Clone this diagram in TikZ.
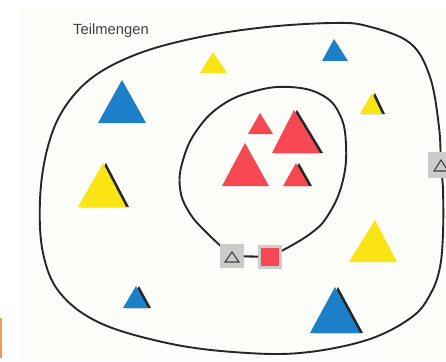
\documentclass[tikz,border=0pt]{standalone}
\usepackage{fontspec}
\setsansfont{Liberation Sans}
\usetikzlibrary{positioning,backgrounds}

\definecolor{setblue}{RGB}{28,128,200}
\definecolor{setyellow}{RGB}{250,228,20}
\definecolor{setred}{RGB}{246,72,82}
\definecolor{boxgray}{RGB}{204,204,204}
\definecolor{paper}{RGB}{252,252,248}
\definecolor{tabmark}{RGB}{242,150,90}

\begin{document}
\begin{tikzpicture}[x=0.025cm,y=-0.025cm,
  setline/.style={line width=1.35pt,black!85},
  elembox/.style={fill=boxgray,minimum size=0.58cm,inner sep=0pt},
  hatch/.style={fill=black!85,shift={(3,0)}},
  small/.style={draw=black!75,line width=0.8pt}]
\useasboundingbox (0,0) rectangle (446,361);

% element boxes on the set borders
\node[elembox] (boxA) at (232,256) {};
\node[elembox,fill=setred,draw=boxgray,line width=2pt,minimum size=0.54cm] (boxB) at (270,257) {};
\node[elembox,minimum size=0.64cm] (boxC) at (441,165) {};
\draw[small,shift={(boxA.center)}] (0,-4) -- (7,6) -- (-7,6) -- cycle;
\draw[small,shift={(boxC.center)}] (0,-5) -- (7,6) -- (-7,6) -- cycle;
\draw[line width=1.5pt,black!85] (boxA) -- (boxB);

\begin{scope}[on background layer]
\fill[paper] (19,10) rectangle (446,361);
\fill[tabmark] (0,318) rectangle (2,358);
% outer set
\draw[setline] plot[smooth cycle,tension=0.6] coordinates {(367,26) (410,43) (430,77) (439,127)
  (boxC.center) (443,190) (443,233) (440,267) (431,293) (412,317) (367,340) (300,353) (233,352)
  (167,343) (100,323) (60,293) (43,253) (40,200) (47,150) (63,110) (93,77) (140,53) (200,37)
  (267,27) (333,23)};
% inner set
\draw[setline] plot[smooth,tension=0.7] coordinates {(boxA.center) (207,233) (189,212) (180,188)
  (183,160) (197,130) (222,105) (255,91) (290,87) (322,95) (340,115) (346,145) (343,180)
  (330,212) (310,234) (boxB.center)};
\end{scope}

\node[text=black!75,font=\sffamily\fontsize{10.5}{12}\selectfont] (title) at (111,31) {Teilmengen};

% triangles outside the inner set
\fill[setblue] (122,80) -- (146,123) -- (98,123) -- cycle;
\fill[setyellow] (213,52) -- (227,73) -- (200,73) -- cycle;
\fill[setblue] (334,39) -- (348,61) -- (322,61) -- cycle;
\fill[hatch] (372,93) -- (382,114) -- (360,114) -- cycle;
\fill[setyellow] (372,93) -- (382,114) -- (360,114) -- cycle;
\fill[hatch] (103,163) -- (126,207) -- (78,207) -- cycle;
\fill[setyellow] (103,163) -- (126,207) -- (78,207) -- cycle;
\fill[setyellow] (375,220) -- (397,262) -- (349,262) -- cycle;
\fill[hatch] (136,286) -- (148,308) -- (123,308) -- cycle;
\fill[setblue] (136,286) -- (148,308) -- (123,308) -- cycle;
\fill[hatch] (335,287) -- (360,333) -- (310,333) -- cycle;
\fill[setblue] (335,287) -- (360,333) -- (310,333) -- cycle;

% triangles inside the inner set
\fill[setred] (260,113) -- (273,134) -- (248,134) -- cycle;
\fill[hatch] (294,110) -- (320,153) -- (272,153) -- cycle;
\fill[setred] (294,110) -- (320,153) -- (272,153) -- cycle;
\fill[setred] (245,143) -- (269,186) -- (222,186) -- cycle;
\fill[hatch] (296,163) -- (309,186) -- (283,186) -- cycle;
\fill[setred] (296,163) -- (309,186) -- (283,186) -- cycle;
\end{tikzpicture}
\end{document}
